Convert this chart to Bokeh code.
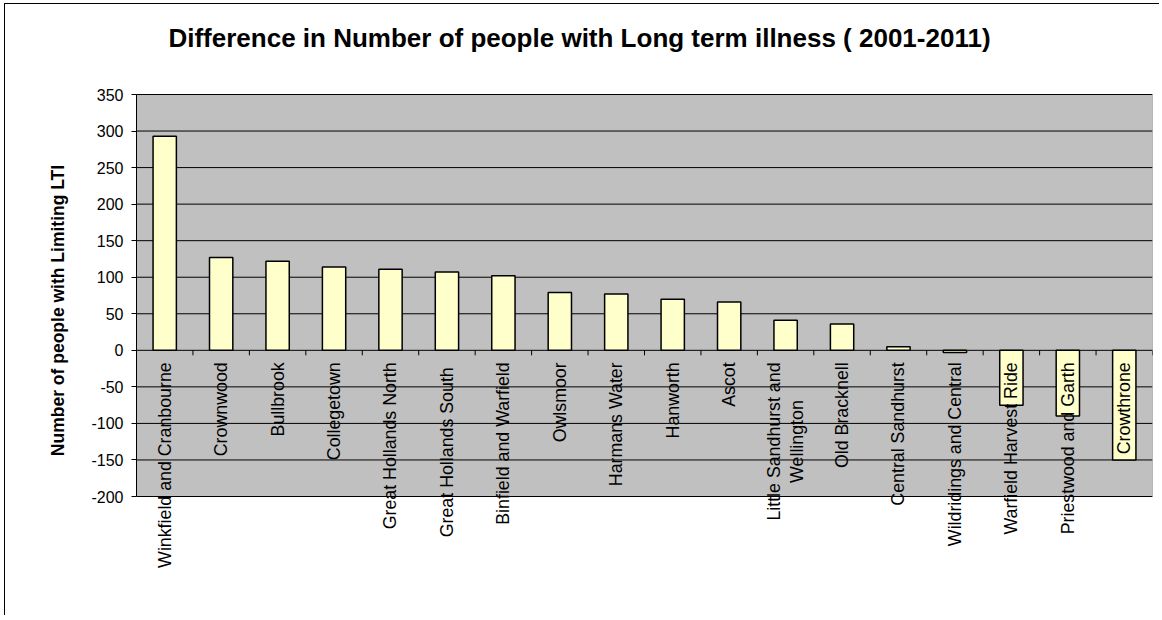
import numpy as np
from bokeh.plotting import figure
from bokeh.models import ColumnDataSource, FixedTicker, Range1d, LabelSet, Label
from bokeh.core.properties import value
from bokeh.embed import file_html
from bokeh.resources import INLINE

# ---- data ----
categories = [
    "Winkfield and Cranbourne", "Crownwood", "Bullbrook", "Collegetown",
    "Great Hollands North", "Great Hollands  South", "Binfield and Warfield",
    "Owlsmoor", "Harmans Water", "Hanworth", "Ascot",
    "Little Sandhurst and\nWellington", "Old Bracknell", "Central Sandhurst",
    "Wildridings and Central", "Warfield Harvest Ride", "Priestwood and Garth",
    "Crowthrone",
]
values = [293, 127, 122, 114, 111, 107, 102, 79, 77, 70, 66, 41, 36, 5, -3, -75, -90, -150]
y_ticks = [-200, -150, -100, -50, 0, 50, 100, 150, 200, 250, 300, 350]
title_text = "Difference in Number of people with Long term illness ( 2001-2011)"
y_title = "Number of people with Limiting LTI"

FONT = "Liberation Sans"
n = len(categories)
centers = np.arange(n) + 0.5
ymin, ymax = y_ticks[0], y_ticks[-1]

# layout (pixels)
W, H = 1155, 612
PLOT_H = 402                      # pixel height of the grey plot area
PX = PLOT_H / (ymax - ymin)       # pixels per unit
TOP_PAD, BOT_PAD = 90, H - 90 - PLOT_H
CAT_W = 1016 / n                  # pixel width of one category

p = figure(
    width=W, height=H,
    x_range=Range1d(0, n),
    y_range=Range1d(ymin - BOT_PAD / PX, ymax + TOP_PAD / PX),
    output_backend="svg", toolbar_location=None,
    min_border_left=131, min_border_top=0, min_border_right=W - 131 - 1016, min_border_bottom=0,
)
p.styles = {"margin-left": "5px", "margin-top": "4px",
            "box-shadow": "-1px -1px 0px 0px #000"}
p.title.visible = False
p.background_fill_color = "white"
p.border_fill_color = "white"
p.outline_line_color = None
p.xaxis.visible = False
p.xgrid.visible = False
p.ygrid.visible = False

# y axis
p.yaxis.bounds = (ymin, ymax)
p.yaxis.ticker = FixedTicker(ticks=y_ticks)
p.yaxis.major_label_overrides = {t: str(t) for t in y_ticks}
p.yaxis.axis_line_color = "black"
p.yaxis.major_tick_out = 5
p.yaxis.major_tick_in = 0
p.yaxis.minor_tick_line_color = None
p.yaxis.major_label_text_font = FONT
p.yaxis.major_label_text_font_size = "16px"
p.yaxis.major_label_text_color = "black"
p.yaxis.major_label_standoff = 8
p.yaxis.axis_label = y_title
p.yaxis.axis_label_text_font = FONT
p.yaxis.axis_label_text_font_size = "17.5px"
p.yaxis.axis_label_text_font_style = "bold"
p.yaxis.axis_label_text_color = "black"
p.yaxis.axis_label_standoff = 20

# grey plot area
p.quad(left=[0], right=[n], bottom=[ymin], top=[ymax],
       fill_color="#C0C0C0", line_color="#808080", line_width=1)
# grid lines (including the zero line)
p.segment(x0=[0] * len(y_ticks), x1=[n] * len(y_ticks), y0=y_ticks, y1=y_ticks,
          line_color="black", line_width=1)

# bars
src = ColumnDataSource(dict(x=centers, top=values))
p.vbar(x="x", top="top", bottom=0, width=0.413, source=src,
       fill_color="#FFFFCC", line_color="black", line_width=1.5)

# category boundary ticks at the zero line
bounds = np.arange(1, n + 1)
p.segment(x0=bounds, y0=[0] * n, x1=bounds, y1=[-5 / PX] * n, line_color="black", line_width=1)

# category labels (rotated), the two-line one split into centred lines
LABEL_FS = 17.8
lx, ly, lt, lxo, lyo, la = [], [], [], [], [], []
STANDOFF = 12
for c, lab in zip(centers, categories):
    parts = lab.split("\n")
    if len(parts) == 1:
        lx.append(c); ly.append(0); lt.append(lab); lxo.append(0); lyo.append(-STANDOFF); la.append("right")
    else:
        first_len = 8.9 * LABEL_FS  # approx. rendered length of the first line in px
        for k, part in enumerate(parts):
            lx.append(c); ly.append(0); lt.append(part)
            lxo.append((k - (len(parts) - 1) / 2) * 23)
            lyo.append(-STANDOFF - first_len / 2)
            la.append("center")
lsrc = ColumnDataSource(dict(x=lx, y=ly, text=lt, xo=lxo, yo=lyo, align=la))
p.add_layout(LabelSet(x="x", y="y", text="text", x_offset="xo", y_offset="yo",
                      text_align="align", source=lsrc, angle=np.pi / 2,
                      text_baseline="middle", text_font=value(FONT),
                      text_font_size=value(f"{LABEL_FS}px"), text_color=value("black")))

# title
p.add_layout(Label(x=(579 - 136) / CAT_W, y=ymax + (94 - 37) / PX, text=title_text,
                   text_align="center", text_baseline="alphabetic",
                   text_font=FONT, text_font_size="26px", text_font_style="bold",
                   text_color="black"))

open("out.html", "w").write(file_html(p, INLINE))
